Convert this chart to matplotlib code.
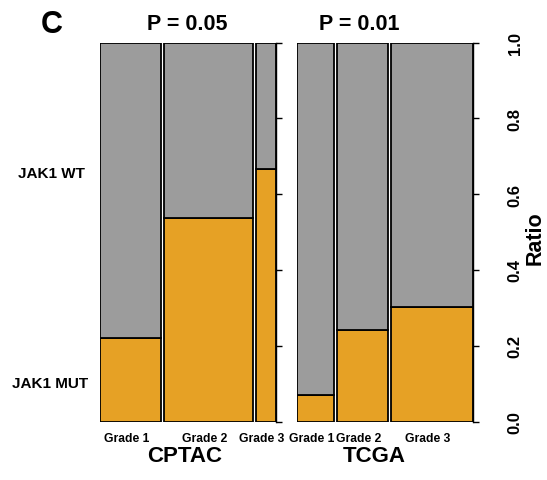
import matplotlib
matplotlib.use("Agg")
import matplotlib.pyplot as plt
from matplotlib.transforms import offset_copy

plt.rcParams['font.family'] = ['Liberation Sans', 'DejaVu Sans']
plt.rcParams['font.weight'] = 'bold'

# data
grades = ["Grade 1", "Grade 2", "Grade 3"]
cptac_n = [27, 39, 9]
cptac_mut = [0.219, 0.538, 0.665]
tcga_n = [44, 60, 97]
tcga_mut = [0.070, 0.241, 0.302]
panels = ["CPTAC", "TCGA"]
pvals = ["P = 0.05", "P = 0.01"]
yticks = [0.0, 0.2, 0.4, 0.6, 0.8, 1.0]

col_mut = "#E6A125"
col_wt = "#9C9C9C"

W, H = 547, 481
fig = plt.figure(figsize=(W / 100, H / 100), dpi=100)


def px(x, y):
    return x / W, 1 - y / H


gap = 0.0176


def mosaic(ax, n, mut, labels=False):
    tot = float(sum(n))
    x = 0
    for i, (ni, m) in enumerate(zip(n, mut)):
        w = ni / tot
        ax.bar(x, m, width=w, bottom=0, align='edge', color=col_mut,
               edgecolor='black', linewidth=1.3)
        ax.bar(x, 1 - m, width=w, bottom=m, align='edge', color=col_wt,
               edgecolor='black', linewidth=1.3)
        tr = offset_copy(ax.transData, fig=fig, x=-4, y=0, units='dots')
        ax.text(x + w / 2, -0.028, grades[i], transform=tr, ha='center',
                va='top', fontsize=8.7, fontweight='bold')
        x += w + gap
    ax.set_xlim(0, 1 + 2 * gap)
    ax.set_ylim(0, 1)
    for s in ['top', 'left', 'bottom']:
        ax.spines[s].set_visible(False)
    ax.spines['right'].set_linewidth(1.0)
    ax.set_xticks([])
    ax.yaxis.tick_right()
    ax.set_yticks(yticks)
    ax.tick_params(axis='y', length=4, width=1.0, direction='out')
    if labels:
        ax.set_yticklabels(["%.1f" % t for t in yticks], rotation=90,
                           va='center', fontsize=12, fontweight='bold')
        ax.tick_params(axis='y', pad=21)
    else:
        ax.set_yticklabels([])


ax1 = fig.add_axes([100 / W, 1 - 422.5 / H, 176 / W, 379 / H])
mosaic(ax1, cptac_n, cptac_mut)
ax2 = fig.add_axes([297 / W, 1 - 422.5 / H, 176 / W, 379 / H])
mosaic(ax2, tcga_n, tcga_mut, labels=True)

fig.text(*px(52, 25), "C", fontsize=22, fontweight='bold', ha='center', va='center')
fig.text(*px(187, 25), pvals[0], fontsize=15.5, fontweight='bold', ha='center', va='center')
fig.text(*px(359, 25), pvals[1], fontsize=15.5, fontweight='bold', ha='center', va='center')
fig.text(*px(185, 457), panels[0], fontsize=16, fontweight='bold', ha='center', va='center')
fig.text(*px(374, 457), panels[1], fontsize=16, fontweight='bold', ha='center', va='center')
fig.text(*px(51, 174), "JAK1 WT", fontsize=11, fontweight='bold', ha='center', va='center')
fig.text(*px(50, 384), "JAK1 MUT", fontsize=11, fontweight='bold', ha='center', va='center')
fig.text(*px(535, 238), "Ratio", fontsize=15.5, fontweight='bold', ha='center',
         va='center', rotation=90)

fig.savefig("out.png", dpi=100)
